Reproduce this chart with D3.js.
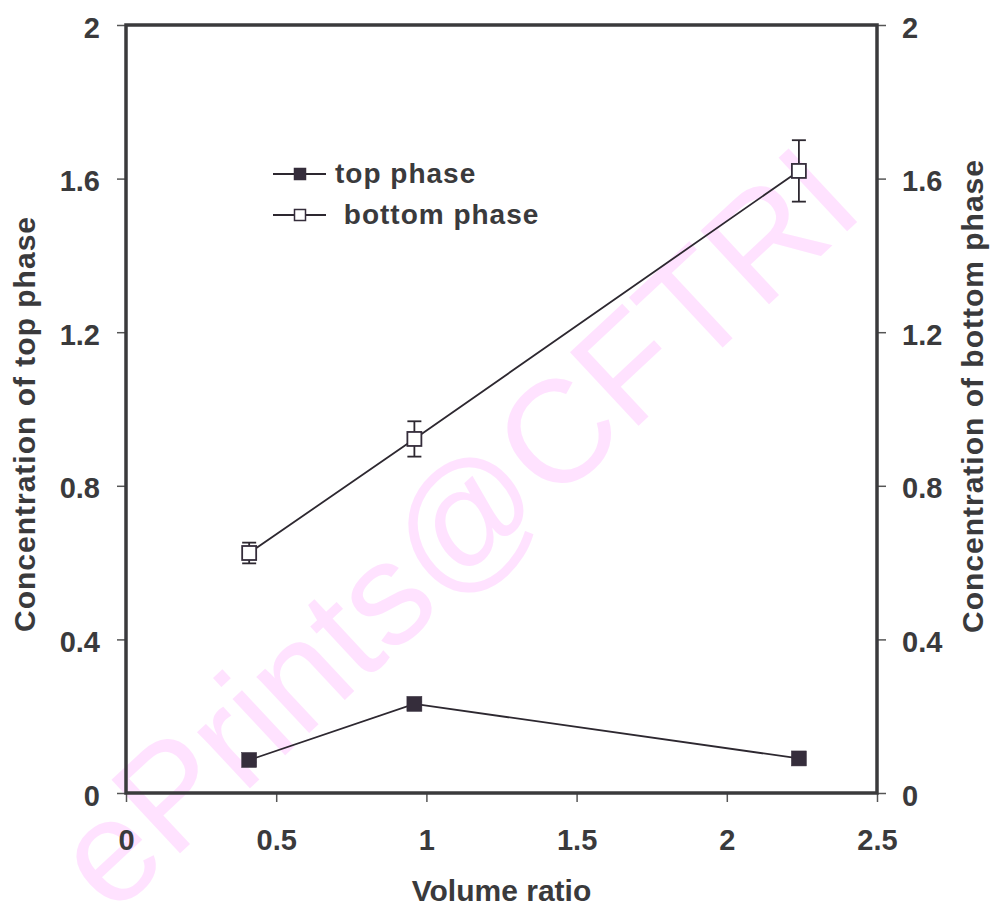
<!DOCTYPE html>
<html>
<head>
<meta charset="utf-8">
<script src="https://cdn.jsdelivr.net/npm/d3@7"></script>
<style>
  body { margin: 0; background: #fff; }
  svg text { font-family: Arial, "Liberation Sans", sans-serif; font-weight: bold; fill: #3a3a3c; }
</style>
</head>
<body>
<div id="chart"></div>
<script>
var width = 992;
var height = 909;

// data
const volumeRatio = [0.41, 0.96, 2.24];
const topPhase = [0.086, 0.232, 0.09];
const topErr = [0.006, 0.006, 0.006];
const bottomPhase = [0.625, 0.922, 1.62];
const bottomErr = [0.027, 0.046, 0.08];
const xTicks = [0, 0.5, 1, 1.5, 2, 2.5];
const yTicks = [0, 0.4, 0.8, 1.2, 1.6, 2];
const seriesNames = ["top phase", " bottom phase"];

var margin = { left: 126, right: 115, top: 25, bottom: 116 };
var x = d3.scaleLinear().domain([0, 2.5]).range([margin.left, width - margin.right]);
var y = d3.scaleLinear().domain([0, 2]).range([height - margin.bottom, margin.top]);

var svg = d3.select("#chart").append("svg")
  .attr("width", width)
  .attr("height", height);

// watermark
svg.append("text")
  .attr("transform", "translate(455,528) rotate(-43)")
  .attr("text-anchor", "middle")
  .attr("dominant-baseline", "central")
  .style("font-weight", "normal")
  .style("font-size", "146px")
  .style("fill", "#ffe2ff")
  .text("ePrints@CFTRI");

// axes
var fmt = d => String(d);
var left = svg.append("g").attr("transform", "translate(" + x(0) + ",0)")
  .call(d3.axisLeft(y).tickValues(yTicks).tickFormat(fmt).tickSize(9).tickPadding(17));
var right = svg.append("g").attr("transform", "translate(" + x(2.5) + ",0)")
  .call(d3.axisRight(y).tickValues(yTicks).tickFormat(fmt).tickSize(9).tickPadding(16));
var bottom = svg.append("g").attr("transform", "translate(0," + y(0) + ")")
  .call(d3.axisBottom(x).tickValues(xTicks).tickFormat(fmt).tickSize(9).tickPadding(27));

[left, right, bottom].forEach(function(g) {
  g.select(".domain").remove();
  g.selectAll(".tick line").attr("stroke", "#555").attr("stroke-width", 1.5);
  g.selectAll(".tick text").style("font-size", "29px").attr("fill", null);
});
left.selectAll(".tick text").attr("dy", "0.42em");
right.selectAll(".tick text").attr("dy", "0.42em");

// frame
svg.append("rect")
  .attr("x", x(0))
  .attr("y", y(2))
  .attr("width", x(2.5) - x(0))
  .attr("height", y(0) - y(2))
  .attr("fill", "none")
  .attr("stroke", "#3a3a3c")
  .attr("stroke-width", 3.5);

// axis titles
svg.append("text")
  .attr("transform", "translate(" + ((x(0) + x(2.5)) / 2) + ",901)")
  .attr("text-anchor", "middle")
  .style("font-size", "30px")
  .text("Volume ratio");

svg.append("text")
  .attr("transform", "translate(35,632) rotate(-90)")
  .style("font-size", "30px")
  .style("letter-spacing", "1px")
  .text("Concentration of top phase");

svg.append("text")
  .attr("transform", "translate(983,633) rotate(-90)")
  .style("font-size", "30px")
  .style("letter-spacing", "1px")
  .text("Concentration of bottom phase");

var line = d3.line().x(d => x(d[0])).y(d => y(d[1]));
var topData = volumeRatio.map((v, i) => [v, topPhase[i], topErr[i]]);
var bottomData = volumeRatio.map((v, i) => [v, bottomPhase[i], bottomErr[i]]);

function drawSeries(data, filled, size) {
  var g = svg.append("g");
  g.append("path")
    .datum(data)
    .attr("d", line)
    .attr("fill", "none")
    .attr("stroke", "#2d2830")
    .attr("stroke-width", 1.8);
  var eb = g.selectAll(".err").data(data).enter().append("g").attr("class", "err")
    .attr("stroke", "#2d2830").attr("stroke-width", 1.8);
  eb.append("line")
    .attr("x1", d => x(d[0])).attr("x2", d => x(d[0]))
    .attr("y1", d => y(d[1] - d[2])).attr("y2", d => y(d[1] + d[2]));
  eb.append("line")
    .attr("x1", d => x(d[0]) - 7).attr("x2", d => x(d[0]) + 7)
    .attr("y1", d => y(d[1] + d[2])).attr("y2", d => y(d[1] + d[2]));
  eb.append("line")
    .attr("x1", d => x(d[0]) - 7).attr("x2", d => x(d[0]) + 7)
    .attr("y1", d => y(d[1] - d[2])).attr("y2", d => y(d[1] - d[2]));
  g.selectAll("rect").data(data).enter().append("rect")
    .attr("x", d => x(d[0]) - size / 2)
    .attr("y", d => y(d[1]) - size / 2)
    .attr("width", size)
    .attr("height", size)
    .attr("fill", filled ? "#352d3b" : "#fff")
    .attr("stroke", "#352d3b")
    .attr("stroke-width", filled ? 0.5 : 1.8);
}
drawSeries(bottomData, false, 14);
drawSeries(topData, true, 15);

// legend
var legY = [174, 215];
var legend = svg.append("g");
seriesNames.forEach(function(name, i) {
  legend.append("line")
    .attr("x1", 273).attr("x2", 326)
    .attr("y1", legY[i]).attr("y2", legY[i])
    .attr("stroke", "#2d2830").attr("stroke-width", 1.8);
  var s = i == 0 ? 12 : 11;
  legend.append("rect")
    .attr("x", 300 - s / 2).attr("y", legY[i] - s / 2)
    .attr("width", s).attr("height", s)
    .attr("fill", i == 0 ? "#352d3b" : "#fff")
    .attr("stroke", "#352d3b").attr("stroke-width", i == 0 ? 0.5 : 1.5);
  legend.append("text")
    .attr("x", 335).attr("y", legY[i] + 9)
    .style("font-size", "28px")
    .style("letter-spacing", "1px")
    .style("white-space", "pre")
    .text(name);
});
</script>
</body>
</html>
